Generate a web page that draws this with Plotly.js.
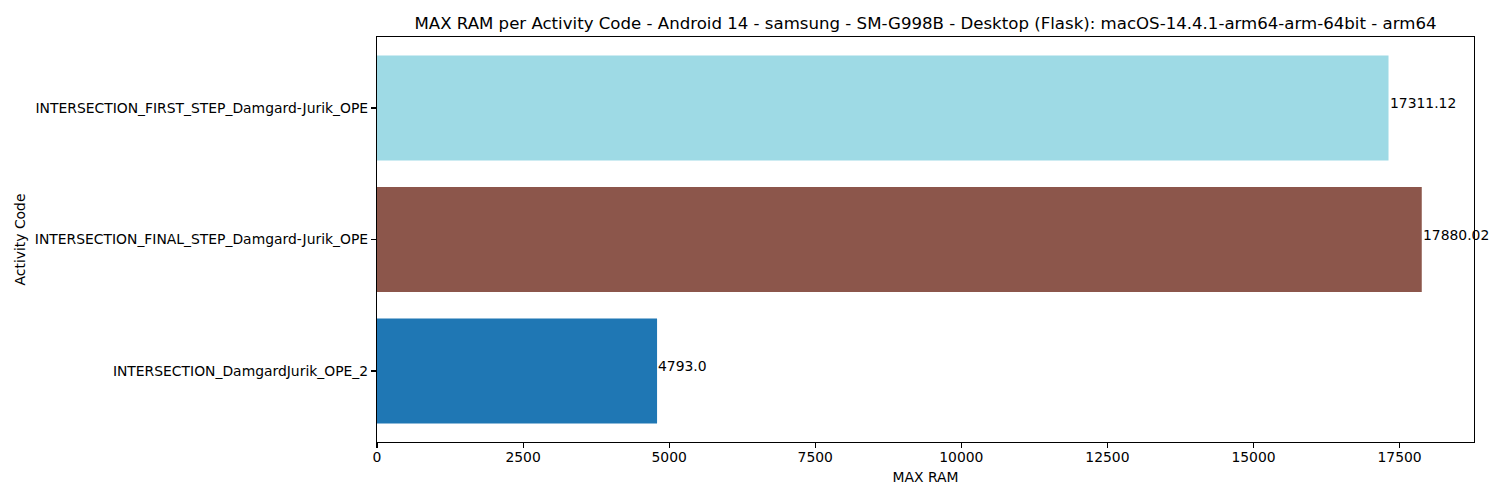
<!DOCTYPE html>
<html>
<head>
<meta charset="utf-8">
<script src="https://cdn.plot.ly/plotly-3.0.1.min.js"></script>
<style>html,body{margin:0;padding:0;background:#fff;}#chart{width:1500px;height:500px;}</style>
</head>
<body>
<div id="chart"></div>
<script>
const categories = [
  "INTERSECTION_DamgardJurik_OPE_2",
  "INTERSECTION_FINAL_STEP_Damgard-Jurik_OPE",
  "INTERSECTION_FIRST_STEP_Damgard-Jurik_OPE"
];
const maxRam = [4793.0, 17880.02, 17311.12];
const valueLabels = ["4793.0", "17880.02", "17311.12"];
const barColors = ["#1f77b4", "#8c564b", "#9edae5"];
const xTicks = [0, 2500, 5000, 7500, 10000, 12500, 15000, 17500];
const titleText = "MAX RAM per Activity Code - Android 14 - samsung - SM-G998B - Desktop (Flask): macOS-14.4.1-arm64-arm-64bit - arm64";

const FONT = "DejaVu Sans, sans-serif";
const xMax = Math.max(...maxRam) * 1.05;

const trace = {
  type: "bar",
  orientation: "h",
  x: maxRam,
  y: categories,
  width: 0.8,
  marker: {color: barColors, line: {width: 0}},
  hoverinfo: "none"
};

const annotations = maxRam.map((v, i) => ({
  x: v, y: categories[i], xref: "x", yref: "y",
  text: valueLabels[i], showarrow: false,
  xanchor: "left", yanchor: "bottom",
  xshift: -1, yshift: -5,
  font: {family: FONT, size: 13.9, color: "#000"}
}));

const layout = {
  width: 1500, height: 500,
  margin: {l: 377, r: 26, t: 37, b: 58, pad: 0},
  paper_bgcolor: "#fff", plot_bgcolor: "#fff",
  font: {family: FONT, size: 13.9, color: "#000"},
  showlegend: false,
  title: {
    text: titleText,
    font: {family: FONT, size: 16.6, color: "#000"},
    x: 0.5, xref: "paper", xanchor: "center",
    y: 1 - 23.5 / 500, yref: "container", yanchor: "middle"
  },
  xaxis: {
    range: [0, xMax],
    tickvals: xTicks,
    ticktext: xTicks.map(String),
    ticks: "outside", ticklen: 5, tickwidth: 1.1, tickcolor: "#000",
    ticklabelstandoff: -3,
    showline: true, linecolor: "#000", linewidth: 1.1, mirror: true,
    showgrid: false, zeroline: false,
    tickfont: {family: FONT, size: 13.9, color: "#000"},
    title: {text: "MAX RAM", font: {family: FONT, size: 13.9, color: "#000"}, standoff: 8},
    automargin: false, fixedrange: true
  },
  yaxis: {
    type: "category",
    categoryorder: "array", categoryarray: categories,
    range: [-0.54, 2.54],
    ticks: "outside", ticklen: 5, tickwidth: 1.1, tickcolor: "#000",
    showline: true, linecolor: "#000", linewidth: 1.1, mirror: true,
    showgrid: false, zeroline: false,
    tickfont: {family: FONT, size: 13.9, color: "#000"},
    title: {text: "Activity Code", font: {family: FONT, size: 13.9, color: "#000"}, standoff: 6},
    automargin: false, fixedrange: true
  },
  annotations: annotations
};

Plotly.newPlot("chart", [trace], layout, {displayModeBar: false, staticPlot: true});
</script>
</body>
</html>
